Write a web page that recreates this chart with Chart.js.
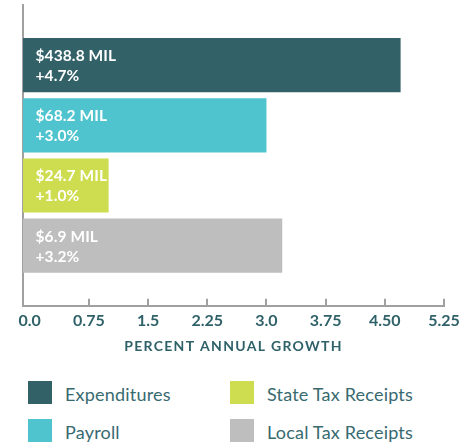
<!DOCTYPE html>
<html><head><meta charset="utf-8">
<script src="https://cdn.jsdelivr.net/npm/chart.js@4.4.1/dist/chart.umd.min.js"></script>
<style>
html,body{margin:0;padding:0;background:#fff;}
#wrap{position:relative;width:460px;height:445px;overflow:hidden;}
#c{position:absolute;left:0;top:0;}
.lg{position:absolute;display:flex;align-items:center;font-family:Lato,"Noto Sans",sans-serif;font-size:18px;color:#386a70;white-space:nowrap;letter-spacing:0.2px;}
.sw{width:24px;height:23px;margin-right:13px;flex:none;}
.lt{position:relative;top:1px;}
</style></head>
<body><div id="wrap"><canvas id="c" width="460" height="360"></canvas><div id="legend"></div></div>
<script>
const categories = ['Expenditures', 'Payroll', 'State Tax Receipts', 'Local Tax Receipts'];
const growthPct = [4.7, 3.0, 1.0, 3.2];
const amountLabels = ['$438.8 MIL', '$68.2 MIL', '$24.7 MIL', '$6.9 MIL'];
const growthLabels = ['+4.7%', '+3.0%', '+1.0%', '+3.2%'];
const xTickValues = [0, 0.75, 1.5, 2.25, 3.0, 3.75, 4.5, 5.25];
const xTickLabels = ['0.0', '0.75', '1.5', '2.25', '3.0', '3.75', '4.50', '5.25'];
const colors = ['#326168', '#4fc4cf', '#cedd4f', '#bebebe'];
const legendOrder = [0, 2, 1, 3];
const axisTitle = 'PERCENT ANNUAL GROWTH';

const xMin = -0.085, xMax = 5.25;
const textColor = '#2f6168';
const axisColor = '#a0a0a0';

// legend (HTML)
const legendEl = document.getElementById('legend');
const colLeft = [28, 230], rowTop = [381, 419];
legendOrder.forEach((ci, k) => {
  const d = document.createElement('div');
  d.className = 'lg';
  d.style.left = colLeft[k % 2] + 'px';
  d.style.top = rowTop[Math.floor(k / 2)] + 'px';
  const sw = document.createElement('span');
  sw.className = 'sw';
  sw.style.background = colors[ci];
  const t = document.createElement('span');
  t.className = 'lt';
  t.textContent = categories[ci];
  d.appendChild(sw); d.appendChild(t);
  legendEl.appendChild(d);
});

const barLabels = {
  id: 'barLabels',
  afterDatasetsDraw(chart) {
    const meta = chart.getDatasetMeta(0);
    const ctx = chart.ctx;
    ctx.save();
    ctx.fillStyle = '#ffffff';
    ctx.font = 'bold 15.5px Lato, "Noto Sans", sans-serif';
    ctx.letterSpacing = '0.1px';
    ctx.textAlign = 'left';
    ctx.textBaseline = 'alphabetic';
    growthPct.forEach((v, i) => {
      const el = meta.data[i + 1];
      const x = el.base + 12.5;
      ctx.fillText(amountLabels[i], x, el.y - 4);
      ctx.fillText(growthLabels[i], x, el.y + 16);
    });
    ctx.restore();
  }
};

const axisDecor = {
  id: 'axisDecor',
  afterDraw(chart) {
    const sx = chart.scales.x;
    const ctx = chart.ctx;
    const b = chart.chartArea.bottom;
    ctx.save();
    ctx.strokeStyle = axisColor;
    ctx.lineWidth = 2;
    xTickValues.forEach(v => {
      if (v === 0) return;
      const x = Math.round(sx.getPixelForValue(v));
      ctx.beginPath();
      ctx.moveTo(x, b - 7);
      ctx.lineTo(x, b);
      ctx.stroke();
    });
    // axis title
    ctx.fillStyle = textColor;
    ctx.font = 'bold 14px Lato, "Noto Sans", sans-serif';
    ctx.letterSpacing = '1.3px';
    ctx.textAlign = 'center';
    ctx.textBaseline = 'middle';
    ctx.fillText(axisTitle, (sx.left + sx.right) / 2, b + 41);
    ctx.restore();
  }
};

new Chart(document.getElementById('c'), {
  type: 'bar',
  data: {
    labels: ['', ...categories, ''],
    datasets: [{
      data: [null, ...growthPct, null],
      backgroundColor: ['rgba(0,0,0,0)', ...colors, 'rgba(0,0,0,0)'],
      borderWidth: 0,
      base: xMin,
      barPercentage: 0.9,
      categoryPercentage: 1
    }]
  },
  options: {
    indexAxis: 'y',
    responsive: false,
    animation: false,
    events: [],
    layout: { padding: { left: 23, right: 16, top: 5, bottom: 25 } },
    plugins: { legend: { display: false }, tooltip: { enabled: false } },
    scales: {
      x: {
        type: 'linear',
        min: xMin,
        max: xMax,
        afterBuildTicks: s => { s.ticks = xTickValues.map(v => ({ value: v })); },
        afterFit: s => { s.paddingRight = 0; s.paddingLeft = 0; },
        ticks: {
          callback: (v, i) => xTickLabels[i],
          color: textColor,
          font: { family: 'Lato', size: 16, weight: 'bold' },
          padding: 5,
          maxRotation: 0,
          autoSkip: false
        },
        grid: { display: false, drawTicks: false },
        border: { display: true, color: axisColor, width: 2 }
      },
      y: {
        type: 'category',
        offset: false,
        ticks: { display: false },
        grid: { display: false, drawTicks: false },
        border: { display: true, color: axisColor, width: 2 }
      }
    }
  },
  plugins: [barLabels, axisDecor]
});
</script>
</body></html>
